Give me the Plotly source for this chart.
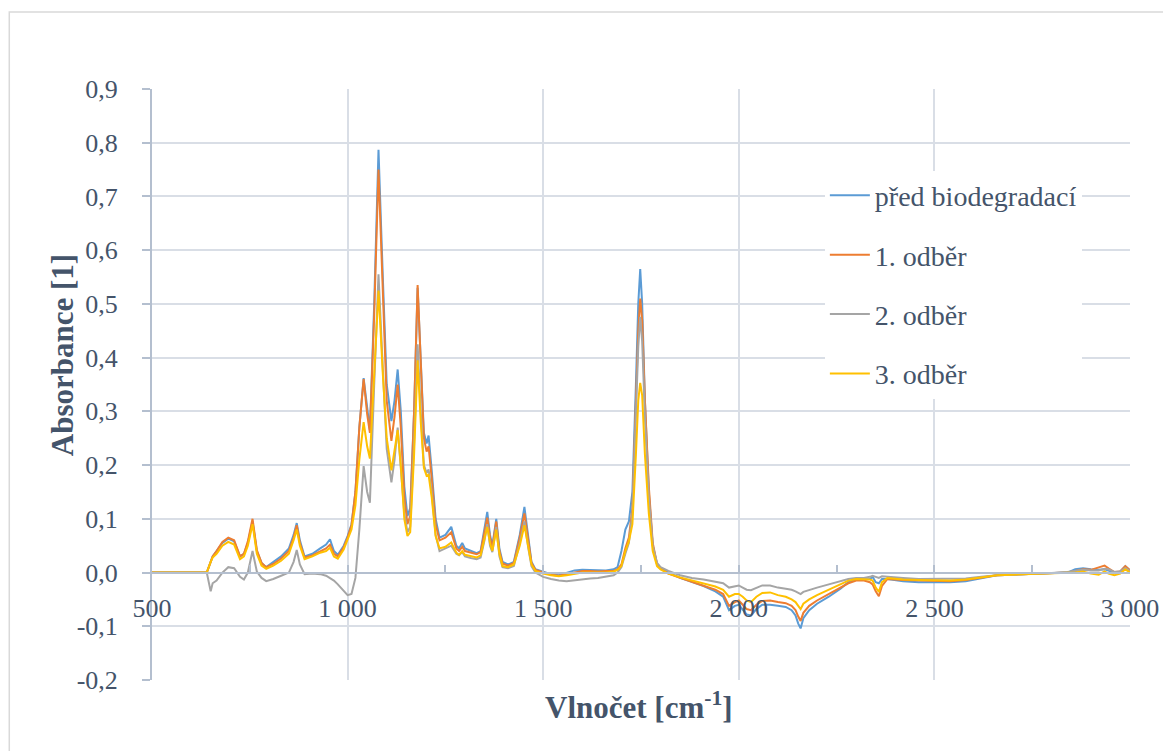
import plotly.graph_objects as go

# Wavenumber [cm-1]
wavenumber = [
    500, 640, 650, 655, 665, 680, 695, 710, 725, 735,
    745, 757, 768, 780, 792, 810, 830, 850, 862, 870,
    878, 890, 910, 930, 945, 955, 965, 975, 990, 1000,
    1010, 1020, 1030, 1041, 1050, 1057, 1068, 1079, 1090, 1100,
    1112, 1120, 1128, 1136, 1145, 1153, 1160, 1170, 1179, 1187,
    1195, 1202, 1207, 1215, 1225, 1235, 1250, 1265, 1278, 1285,
    1293, 1300, 1315, 1330, 1340, 1350, 1357, 1364, 1370, 1380,
    1388, 1396, 1410, 1425, 1440, 1452, 1462, 1470, 1480, 1500,
    1520, 1540, 1560, 1580, 1600, 1620, 1640, 1660, 1680, 1690,
    1700, 1710, 1719, 1728, 1737, 1743, 1748, 1753, 1760, 1770,
    1780, 1791, 1800, 1820, 1850, 1880, 1910, 1940, 1960, 1975,
    1990, 2000, 2010, 2020, 2031, 2045, 2060, 2080, 2100, 2120,
    2135, 2145, 2152, 2158, 2165, 2180, 2200, 2230, 2260, 2280,
    2300, 2320, 2335, 2342, 2350, 2358, 2366, 2380, 2420, 2460,
    2500, 2540, 2580, 2620, 2660, 2700, 2750, 2800, 2840, 2860,
    2880, 2900, 2920, 2935, 2945, 2960, 2975, 2988, 3000,
]

pred_biodegradaci = [
    0, 0, 0.02, 0.03, 0.04, 0.055, 0.063, 0.058, 0.03, 0.035,
    0.055, 0.095, 0.04, 0.018, 0.01, 0.02, 0.03, 0.045, 0.07, 0.092,
    0.06, 0.03, 0.035, 0.045, 0.052, 0.062, 0.04, 0.033, 0.05, 0.068,
    0.09, 0.15, 0.27, 0.362, 0.3, 0.265, 0.5, 0.787, 0.55, 0.35,
    0.282, 0.32, 0.378, 0.3, 0.16, 0.105, 0.12, 0.3, 0.53, 0.38,
    0.26, 0.24, 0.255, 0.19, 0.1, 0.065, 0.07, 0.085, 0.05, 0.045,
    0.055, 0.045, 0.04, 0.036, 0.04, 0.08, 0.113, 0.07, 0.05, 0.1,
    0.045, 0.02, 0.015, 0.02, 0.07, 0.122, 0.06, 0.02, 0.006, 0.002,
    -0.003, -0.005, 0.0, 0.004, 0.005, 0.005, 0.005, 0.004, 0.006, 0.01,
    0.04, 0.08, 0.095, 0.15, 0.35, 0.5, 0.565, 0.5, 0.32, 0.15,
    0.05, 0.015, 0.008, 0.0, -0.01, -0.018, -0.025, -0.035, -0.045, -0.07,
    -0.062, -0.06, -0.068, -0.078, -0.08, -0.068, -0.06, -0.06, -0.062, -0.064,
    -0.07, -0.08, -0.095, -0.104, -0.085, -0.07, -0.058, -0.045, -0.03, -0.018,
    -0.013, -0.012, -0.012, -0.008, -0.018, -0.02, -0.012, -0.012, -0.016, -0.018,
    -0.018, -0.018, -0.016, -0.01, -0.005, -0.004, -0.003, -0.002, 0.0, 0.006,
    0.008, 0.006, 0.005, 0.006, 0.004, 0.0, 0.002, 0.012, 0.004,
]

odber_1 = [
    0, 0, 0.02, 0.03, 0.04, 0.057, 0.065, 0.06, 0.03, 0.035,
    0.058, 0.1, 0.042, 0.018, 0.01, 0.016, 0.026, 0.04, 0.065, 0.088,
    0.055, 0.028, 0.032, 0.04, 0.045, 0.052, 0.035, 0.03, 0.047, 0.065,
    0.088, 0.15, 0.27, 0.36, 0.295, 0.26, 0.48, 0.75, 0.53, 0.32,
    0.245, 0.29, 0.35, 0.27, 0.14, 0.09, 0.105, 0.3, 0.535, 0.38,
    0.25, 0.225, 0.235, 0.175, 0.09, 0.06, 0.065, 0.075, 0.045, 0.04,
    0.048, 0.04, 0.037, 0.034, 0.038, 0.075, 0.102, 0.065, 0.047, 0.095,
    0.04, 0.017, 0.013, 0.018, 0.065, 0.11, 0.055, 0.018, 0.005, 0.0,
    -0.004, -0.006, -0.003, 0.0, 0.003, 0.003, 0.002, 0.003, 0.003, 0.006,
    0.015, 0.045, 0.065, 0.12, 0.3, 0.45, 0.51, 0.47, 0.32, 0.16,
    0.055, 0.016, 0.008, -0.002, -0.01, -0.017, -0.024, -0.032, -0.04, -0.062,
    -0.055, -0.052, -0.06, -0.068, -0.07, -0.06, -0.053, -0.052, -0.055, -0.057,
    -0.062, -0.07, -0.082, -0.09, -0.075, -0.062, -0.052, -0.04, -0.028, -0.02,
    -0.015, -0.015, -0.018, -0.022, -0.035, -0.044, -0.025, -0.012, -0.014, -0.015,
    -0.016, -0.016, -0.014, -0.01, -0.005, -0.004, -0.003, -0.002, 0.0, 0.003,
    0.006, 0.005, 0.01, 0.013, 0.008, 0.001, 0.002, 0.012, 0.004,
]

odber_2 = [
    0, 0, -0.035, -0.02, -0.015, 0.0, 0.01, 0.008, -0.008, -0.013,
    0.0, 0.04, 0.002, -0.01, -0.016, -0.012, -0.006, 0.0, 0.02, 0.042,
    0.015, -0.003, -0.002, -0.003, -0.006, -0.01, -0.015, -0.022, -0.035, -0.042,
    -0.04, -0.01, 0.08, 0.198, 0.15, 0.13, 0.35, 0.555, 0.38, 0.23,
    0.168, 0.21, 0.27, 0.2, 0.11, 0.075, 0.085, 0.24, 0.425, 0.3,
    0.2, 0.185, 0.192, 0.15, 0.07, 0.04, 0.045, 0.05, 0.035, 0.032,
    0.038, 0.03, 0.027, 0.025, 0.028, 0.06, 0.09, 0.05, 0.038, 0.085,
    0.03, 0.01, 0.008, 0.012, 0.055, 0.095, 0.045, 0.012, 0.0, -0.008,
    -0.012, -0.015, -0.016, -0.014, -0.012, -0.011, -0.01, -0.008, -0.005, 0.0,
    0.01, 0.035, 0.055, 0.11, 0.28, 0.42, 0.476, 0.43, 0.29, 0.14,
    0.05, 0.018, 0.01, 0.003, -0.005, -0.01, -0.013, -0.018, -0.02, -0.028,
    -0.026, -0.024, -0.028, -0.032, -0.033, -0.028, -0.024, -0.024, -0.028, -0.03,
    -0.032, -0.035, -0.037, -0.04, -0.036, -0.032, -0.028, -0.022, -0.016, -0.012,
    -0.01, -0.01, -0.008, -0.006, -0.008, -0.01, -0.007, -0.008, -0.01, -0.012,
    -0.012, -0.012, -0.011, -0.008, -0.005, -0.004, -0.003, -0.001, 0.001, 0.003,
    0.005, 0.004, 0.004, 0.007, 0.006, 0.001, 0.002, 0.008, 0.003,
]

odber_3 = [
    0, 0, 0.02, 0.028, 0.035, 0.05, 0.057, 0.052, 0.025, 0.03,
    0.05, 0.09, 0.035, 0.013, 0.007, 0.013, 0.022, 0.035, 0.06, 0.08,
    0.05, 0.025, 0.03, 0.037, 0.04, 0.046, 0.03, 0.026, 0.043, 0.06,
    0.08, 0.125, 0.21, 0.28, 0.235, 0.212, 0.37, 0.525, 0.37, 0.25,
    0.19, 0.225, 0.265, 0.2, 0.1, 0.068, 0.075, 0.22, 0.395, 0.28,
    0.195, 0.18, 0.182, 0.14, 0.068, 0.045, 0.048, 0.056, 0.037, 0.033,
    0.04, 0.033, 0.03, 0.028, 0.032, 0.065, 0.085, 0.055, 0.04, 0.08,
    0.035, 0.012, 0.01, 0.015, 0.05, 0.088, 0.045, 0.015, 0.003, -0.002,
    -0.005, -0.007, -0.005, -0.002, 0.0, 0.0, 0.0, 0.0, 0.002, 0.005,
    0.012, 0.04, 0.058, 0.09, 0.22, 0.32, 0.353, 0.33, 0.22, 0.11,
    0.04, 0.012, 0.006, -0.002, -0.009, -0.015, -0.02, -0.026, -0.032, -0.045,
    -0.04, -0.04, -0.045, -0.052, -0.055, -0.045, -0.038, -0.037, -0.042, -0.045,
    -0.05, -0.055, -0.062, -0.068, -0.058, -0.05, -0.042, -0.032, -0.022, -0.015,
    -0.012, -0.012, -0.013, -0.015, -0.028, -0.036, -0.018, -0.01, -0.013, -0.014,
    -0.015, -0.015, -0.013, -0.009, -0.005, -0.004, -0.003, -0.002, -0.001, 0.0,
    0.002, -0.002, -0.004, 0.002, -0.002, -0.005, -0.002, 0.006, 0.0,
]

series_names = ["před biodegradací", "1. odběr", "2. odběr", "3. odběr"]
series_values = [pred_biodegradaci, odber_1, odber_2, odber_3]
series_colors = ["#5B9BD5", "#ED7D31", "#A5A5A5", "#FFC000"]

x_tick_vals = [500, 1000, 1500, 2000, 2500, 3000]
x_tick_text = ["500", "1 000", "1 500", "2 000", "2 500", "3 000"]
y_tick_vals = [-0.2, -0.1, 0.0, 0.1, 0.2, 0.3, 0.4, 0.5, 0.6, 0.7, 0.8, 0.9]
y_tick_text = ["-0,2", "-0,1", "0,0", "0,1", "0,2", "0,3", "0,4", "0,5",
               "0,6", "0,7", "0,8", "0,9"]

for v in series_values:
    assert len(v) == len(wavenumber), (len(v), len(wavenumber))

FONT = "Liberation Serif, Times New Roman, serif"
TXT = "#44546A"
AXIS = "#B4BFCF"
GRID = "#D9DEE6"

fig = go.Figure()
for i, (name, vals, col) in enumerate(zip(series_names, series_values, series_colors)):
    fig.add_trace(go.Scatter(
        x=wavenumber, y=vals, mode="lines", name=name,
        line=dict(color=col, width=2), legendgroup=f"g{i}",
    ))

# The page body has an 8px margin, so the figure is sized to fit the window.
W, H = 1163, 743
L, R, T, B = 144, 39, 81, 71
PW = W - L - R
PH = H - T - B

Y_MIN, Y_MAX = -0.2, 0.9
fig.update_layout(
    width=W, height=H,
    margin=dict(l=L, r=R, t=T, b=B),
    paper_bgcolor="white", plot_bgcolor="white",
    font=dict(family=FONT, color=TXT, size=26),
    showlegend=True,
    legend=dict(
        x=0.688, y=0.862, xanchor="left", yanchor="top",
        bgcolor="white", borderwidth=0,
        font=dict(family=FONT, size=28, color=TXT),
        tracegroupgap=20, itemwidth=40,
    ),
    xaxis=dict(
        range=[500, 3000], anchor="free", position=(0 - Y_MIN) / (Y_MAX - Y_MIN),
        tickvals=x_tick_vals, ticktext=x_tick_text,
        showgrid=True, gridcolor=GRID, gridwidth=1.5,
        showline=True, linecolor=AXIS, linewidth=2,
        ticks="inside", ticklen=7, tickcolor=AXIS, tickwidth=2,
        minor=dict(tick0=500, dtick=250, ticks="inside", ticklen=7,
                   tickcolor=AXIS, tickwidth=2, showgrid=False),
        tickfont=dict(family=FONT, size=26, color=TXT),
        ticklabelstandoff=12,
        zeroline=False,
    ),
    yaxis=dict(
        range=[Y_MIN, Y_MAX],
        tickvals=y_tick_vals, ticktext=y_tick_text,
        showgrid=True, gridcolor=GRID, gridwidth=1.5,
        showline=True, linecolor=AXIS, linewidth=2,
        ticks="outside", ticklen=8, tickcolor=AXIS, tickwidth=2,
        tickfont=dict(family=FONT, size=26, color=TXT),
        ticklabelstandoff=19,
        zeroline=False,
    ),
    annotations=[
        dict(text="<b>Absorbance [1]</b>", textangle=-90,
             xref="paper", yref="paper", x=(62 - 152) / PW, y=(680 - 355) / PH,
             xanchor="center", yanchor="middle",
             showarrow=False, font=dict(family=FONT, size=31, color=TXT)),
        dict(text="<b>Vlnočet [cm<sup>-1</sup>]</b>",
             xref="paper", yref="paper", x=(640 - 152) / PW, y=(680 - 705) / PH,
             xanchor="center", yanchor="middle",
             showarrow=False, font=dict(family=FONT, size=31, color=TXT)),
    ],
    shapes=[
        dict(type="rect", xref="paper", yref="paper",
             x0=(1 - L) / PW, x1=1.2, y0=-0.3, y1=(680 - 12) / PH,
             line=dict(color="#D9D9D9", width=1.5), fillcolor="rgba(0,0,0,0)",
             layer="below"),
    ],
)

fig.write_html("out.html")
